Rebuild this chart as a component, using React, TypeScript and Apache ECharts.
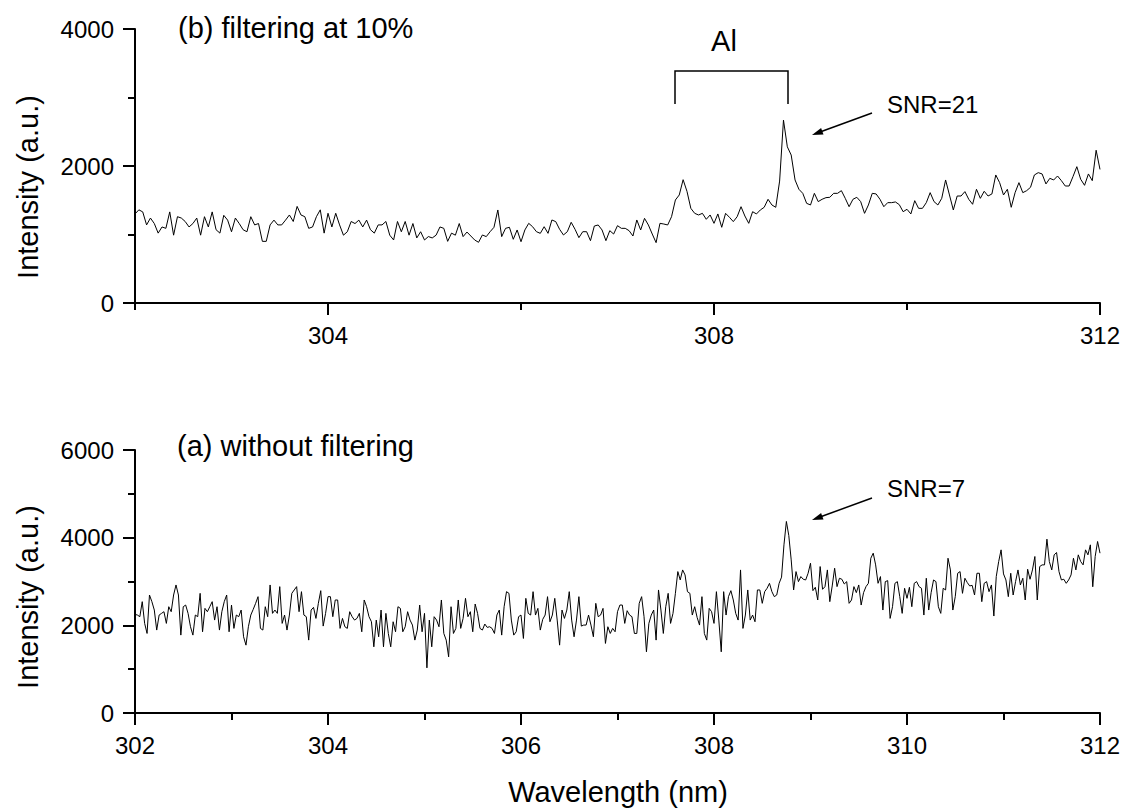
import React, { useEffect, useRef } from "react";
import * as echarts from "echarts";

const FONT = "'Liberation Sans', Arial, Helvetica, sans-serif";

// (b) filtering at 10% — intensities sampled every 0.04 nm from 302 nm
const topStart = 302;
const topStep = 0.04;
const topIntensity = [
  1300,1360,1330,1140,1240,1160,1020,1110,1090,1330,
  990,1260,1240,1190,1110,1160,1240,990,1260,1110,
  1330,1070,1020,1280,1210,1040,1240,1160,1070,1040,
  1260,1140,1160,900,900,1140,1210,1140,1140,1210,
  1285,1190,1410,1285,1260,1090,1110,1260,1360,1020,
  1310,1110,1310,1140,990,1040,1190,1160,1210,1110,
  1210,1070,1020,1140,1140,1190,990,920,1190,1040,
  1190,990,1160,950,1040,920,970,950,990,1110,
  1090,900,1020,990,1160,
  969,1036,978,920,886,993,969,1041,1105,1358,
  969,1090,1105,930,1066,895,1066,1163,1114,1041,
  1017,1114,1017,1212,1188,1076,993,1041,1178,1076,
  954,1041,1041,910,1124,1139,1066,910,1056,1007,
  1129,1090,1090,1056,978,1212,1066,1236,1139,1007,
  881,1163,1153,1139,1260,1504,1577,1800,1630,1382,
  1309,1285,1309,1222,1285,1163,1300,1105,1309,1251,
  1188,1260,1406,1270,1163,1333,1300,1358,1397,1514,
  1431,1397,1780,
  2670,2280,2160,1796,1660,1601,1455,1431,1601,1480,
  1514,1538,1543,1601,1601,1640,1528,1406,1514,1543,
  1480,1309,1431,1601,1592,1514,1406,1465,1465,1475,
  1436,1333,1368,1300,1494,1382,1382,1465,1611,1480,
  1431,1528,1796,1577,1358,1562,1562,1626,1514,1441,
  1660,1528,1631,1562,1592,1869,1757,1577,1660,1397,
  1611,1757,1611,1640,1689,1869,1903,1884,1738,1820,
  1796,1854,1786,1708,1708,1845,1990,1806,1718,1884,
  1786,2230,1950,
];

// (a) without filtering — intensities sampled every 0.025 nm from 302 nm
const bottomStart = 302;
const bottomStep = 0.025;
const bottomIntensity = [
  2250,2235,2197,2540,2044,1815,2692,2540,2349,1892,
  2235,2273,2311,2044,2425,2311,2692,2921,2692,1777,
  2425,2463,2273,1968,1777,2235,2197,2730,1853,2387,
  2311,2425,2540,2120,2425,1892,2311,2540,2692,1853,
  2463,1930,2235,2197,2349,1739,1548,1968,2235,2364,
  2502,2654,1930,1892,2425,2197,2921,2273,2349,2273,
  2883,2044,2235,1892,2235,2730,2807,2883,2311,2768,
  2235,2197,1663,2349,2410,2158,2502,2791,1983,2273,
  2654,2654,2197,2578,2578,1930,2158,1968,1930,2311,
  2197,2120,2158,2273,1853,2578,2425,2197,2082,1510,
  2120,1739,2349,1510,2273,1815,1510,2082,1853,2425,
  2387,1853,1968,2311,2120,2006,1663,1892,2463,1853,
  2273,1030,2120,1510,2197,2120,1968,2578,1815,1663,
  1281,2425,1815,1930,2578,
  1930,2158,2616,2197,2311,1853,2486,2273,1930,1892,
  2029,1953,1968,1930,1815,2235,2349,1777,2425,2768,
  2730,2120,1777,1853,2197,2235,1701,2616,2273,2235,
  2768,2235,2387,1892,2136,2235,2654,2082,2235,2616,
  2120,1548,2349,2158,2349,2768,2120,1739,2120,2654,
  1983,2006,2006,2235,2006,1739,2502,2197,2235,2387,
  1587,1968,1815,1930,1853,2311,2463,2463,2044,2334,
  2235,2197,1815,1815,2502,2654,2197,1396,2044,2235,
  2349,1663,2807,2349,1815,2425,2730,2044,2273,2730,
  3226,3035,3264,3150,2768,2730,2235,2425,2181,2006,
  2654,1815,1663,2387,2311,2044,2768,2120,1396,2768,
  2235,2654,2791,2578,2273,2120,3264,1930,2235,2807,
  2120,2235,2082,2807,2807,2502,2768,2845,2959,2768,
  2654,2692,2959,
  3100,3836,4370,4050,3493,2807,3226,2997,3112,3051,
  3035,3188,3417,2791,2868,2578,3341,2822,2883,3264,
  2540,2898,3303,2883,3074,3051,2944,2997,2502,2578,
  2883,2746,2921,2463,2746,2883,2959,3531,3646,3379,
  2959,3112,2349,2997,3020,2158,2425,2959,2997,2654,
  2273,2845,2616,2868,2425,2959,2997,2883,2845,2235,
  3074,2349,2746,3035,2997,2425,2273,2845,2807,3531,
  3264,2349,2654,3188,3226,2730,3074,2974,2898,2913,
  2692,3188,3188,2540,2959,2997,2768,2921,2212,3112,
  3455,3722,3173,3035,2654,3188,2692,2997,3264,2921,
  3074,2578,3280,3051,3264,3570,2578,3341,3379,3379,
  3966,3455,3264,3608,3661,3226,3035,3051,2959,3035,
  3150,3531,3264,3608,3455,3379,3722,3608,3836,2880,
  3570,3913,3646,
];

const topTickValues = [302, 304, 306, 308, 310, 312];
const topLabelValues = [304, 308, 312];
const xMin = 302;
const xMax = 312;

const topData = topIntensity.map((v, i) => [+(topStart + topStep * i).toFixed(3), v]);
const bottomData = bottomIntensity.map((v, i) => [+(bottomStart + bottomStep * i).toFixed(3), v]);

const axisLineStyle = { lineStyle: { color: "#000", width: 2 } };
const labelStyle = { color: "#000", fontSize: 24, fontFamily: FONT };
const plainNumber = (v: number) => String(Math.round(v));

function buildOption(): any {
  return {
    animation: false,
    backgroundColor: "#fff",
    grid: [
      { left: 135, top: 29, width: 965, height: 274 },
      { left: 135, top: 450, width: 965, height: 263 },
    ],
    xAxis: [
      {
        gridIndex: 0,
        type: "value",
        min: xMin,
        max: xMax,
        interval: 2,
        axisLine: { show: true, onZero: false, ...axisLineStyle },
        axisTick: { show: false },
        splitLine: { show: false },
        axisLabel: {
          ...labelStyle,
          margin: 20,
          formatter: (v: number) => (topLabelValues.includes(Math.round(v)) ? String(Math.round(v)) : ""),
        },
      },
      {
        gridIndex: 1,
        type: "value",
        min: xMin,
        max: xMax,
        interval: 2,
        axisLine: { show: true, onZero: false, ...axisLineStyle },
        axisTick: { show: true, length: 12, lineStyle: { color: "#000", width: 2 } },
        minorTick: { show: true, splitNumber: 2, length: 7, lineStyle: { color: "#000", width: 2 } },
        splitLine: { show: false },
        axisLabel: { ...labelStyle, margin: 20, formatter: plainNumber },
      },
    ],
    yAxis: [
      {
        gridIndex: 0,
        type: "value",
        min: 0,
        max: 4000,
        interval: 2000,
        axisLine: { show: true, onZero: false, ...axisLineStyle },
        axisTick: { show: true, length: 12, lineStyle: { color: "#000", width: 2 } },
        minorTick: { show: true, splitNumber: 2, length: 7, lineStyle: { color: "#000", width: 2 } },
        splitLine: { show: false },
        axisLabel: { ...labelStyle, margin: 21, formatter: plainNumber },
      },
      {
        gridIndex: 1,
        type: "value",
        min: 0,
        max: 6000,
        interval: 2000,
        axisLine: { show: true, onZero: false, ...axisLineStyle },
        axisTick: { show: true, length: 12, lineStyle: { color: "#000", width: 2 } },
        minorTick: { show: true, splitNumber: 2, length: 7, lineStyle: { color: "#000", width: 2 } },
        splitLine: { show: false },
        axisLabel: { ...labelStyle, margin: 21, formatter: plainNumber },
      },
    ],
    series: [
      {
        type: "line",
        xAxisIndex: 0,
        yAxisIndex: 0,
        data: topData,
        showSymbol: false,
        symbol: "none",
        silent: true,
        lineStyle: { color: "#000", width: 1 },
      },
      {
        type: "line",
        xAxisIndex: 1,
        yAxisIndex: 1,
        data: bottomData,
        showSymbol: false,
        symbol: "none",
        silent: true,
        lineStyle: { color: "#000", width: 1 },
      },
      {
        type: "custom",
        xAxisIndex: 0,
        yAxisIndex: 0,
        data: topTickValues,
        silent: true,
        clip: false,
        renderItem: (_params: any, api: any) => {
          const v = api.value(0);
          const p = api.coord([v, 0]);
          const len = topLabelValues.includes(Math.round(v)) ? 12 : 7;
          return {
            type: "line",
            shape: { x1: p[0], y1: p[1], x2: p[0], y2: p[1] + len },
            style: { stroke: "#000", lineWidth: 2 },
          };
        },
      },
    ],
    graphic: [
      {
        type: "text",
        x: 178,
        y: 28,
        style: { text: "(b) filtering at 10%", fontSize: 29, fontFamily: FONT, fill: "#000", align: "left", verticalAlign: "middle" },
      },
      {
        type: "text",
        x: 177,
        y: 446,
        style: { text: "(a) without filtering", fontSize: 29, fontFamily: FONT, fill: "#000", align: "left", verticalAlign: "middle" },
      },
      {
        type: "text",
        x: 724,
        y: 41,
        style: { text: "Al", fontSize: 29, fontFamily: FONT, fill: "#000", align: "center", verticalAlign: "middle" },
      },
      {
        type: "polyline",
        shape: { points: [[675, 104], [675, 71], [788, 71], [788, 104]] },
        style: { stroke: "#000", lineWidth: 1.5, fill: null },
      },
      {
        type: "text",
        x: 887,
        y: 104,
        style: { text: "SNR=21", fontSize: 24, fontFamily: FONT, fill: "#000", align: "left", verticalAlign: "middle" },
      },
      {
        type: "line",
        shape: { x1: 872, y1: 113, x2: 820, y2: 132 },
        style: { stroke: "#000", lineWidth: 1.5 },
      },
      {
        type: "polygon",
        shape: { points: [[812, 135], [823.5, 134.5], [821.1, 127.9]] },
        style: { fill: "#000" },
      },
      {
        type: "text",
        x: 887,
        y: 488,
        style: { text: "SNR=7", fontSize: 24, fontFamily: FONT, fill: "#000", align: "left", verticalAlign: "middle" },
      },
      {
        type: "line",
        shape: { x1: 872, y1: 498, x2: 820, y2: 517 },
        style: { stroke: "#000", lineWidth: 1.5 },
      },
      {
        type: "polygon",
        shape: { points: [[812, 520], [823.5, 519.5], [821.1, 512.9]] },
        style: { fill: "#000" },
      },
      {
        type: "text",
        x: 28,
        y: 187,
        rotation: Math.PI / 2,
        style: { text: "Intensity (a.u.)", fontSize: 29, fontFamily: FONT, fill: "#000", align: "center", verticalAlign: "middle" },
      },
      {
        type: "text",
        x: 28,
        y: 597,
        rotation: Math.PI / 2,
        style: { text: "Intensity (a.u.)", fontSize: 29, fontFamily: FONT, fill: "#000", align: "center", verticalAlign: "middle" },
      },
      {
        type: "text",
        x: 618,
        y: 792,
        style: { text: "Wavelength (nm)", fontSize: 29, fontFamily: FONT, fill: "#000", align: "center", verticalAlign: "middle" },
      },
    ],
  };
}

export default function App() {
  const ref = useRef<HTMLDivElement>(null);
  useEffect(() => {
    if (!ref.current) return;
    const chart = echarts.init(ref.current, null, { renderer: "svg" });
    chart.setOption(buildOption());
    return () => chart.dispose();
  }, []);
  return (
    <div
      ref={ref}
      style={{ position: "fixed", left: 0, top: 0, width: 1125, height: 811, background: "#fff" }}
    />
  );
}
